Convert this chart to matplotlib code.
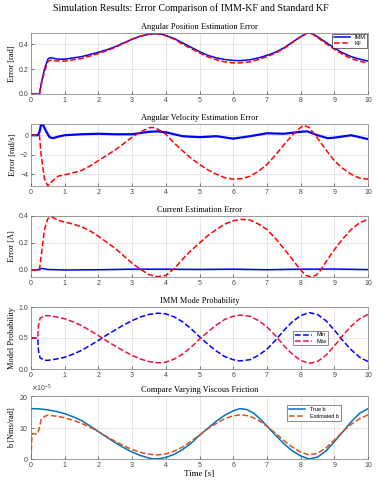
import numpy as np
import matplotlib.pyplot as plt
from matplotlib.ticker import ScalarFormatter

# ---------------- data ----------------
# angular position error [rad]
t_pos = [0, 0.2, 0.25, 0.3, 0.4, 0.5, 0.55, 0.6, 0.8, 1.0, 1.5, 2.0, 2.25, 2.5, 2.75, 3.0, 3.25, 3.5, 3.7, 3.9,
         4.25, 4.5, 4.75, 5.0, 5.25, 5.5, 5.75, 6.0, 6.2, 6.5, 6.75, 7.0, 7.25, 7.5, 7.75, 8.0, 8.2, 8.35, 8.5,
         8.75, 9.0, 9.25, 9.5, 9.75, 10.0]
pos_imm = [0, 0, 0.0, 0.08, 0.2, 0.28, 0.29, 0.29, 0.28, 0.28, 0.3, 0.335, 0.355, 0.38, 0.41, 0.44, 0.465, 0.48,
           0.485, 0.48, 0.445, 0.41, 0.375, 0.34, 0.31, 0.29, 0.277, 0.27, 0.268, 0.275, 0.29, 0.31, 0.335, 0.37,
           0.415, 0.46, 0.49, 0.485, 0.46, 0.415, 0.37, 0.33, 0.3, 0.28, 0.265]
pos_kf = [0, 0, 0.0, 0.07, 0.18, 0.26, 0.27, 0.27, 0.265, 0.265, 0.285, 0.325, 0.348, 0.375, 0.407, 0.44, 0.465,
          0.48, 0.485, 0.478, 0.44, 0.4, 0.365, 0.33, 0.298, 0.275, 0.258, 0.25, 0.25, 0.258, 0.277, 0.3, 0.328,
          0.365, 0.412, 0.46, 0.49, 0.482, 0.455, 0.405, 0.36, 0.318, 0.285, 0.263, 0.25]

# angular velocity error [rad/s]
t_vel_imm = [0, 0.2, 0.25, 0.3, 0.35, 0.45, 0.55, 0.65, 0.8, 1.0, 1.5, 2.0, 2.5, 3.0, 3.5, 3.75, 4.0, 4.5,
             5.0, 5.5, 6.0, 6.5, 7.0, 7.5, 8.0, 8.2, 8.5, 8.8, 9.0, 9.5, 10.0]
vel_imm = [0, 0, 0.3, 1.1, 1.1, 0.4, -0.2, -0.3, -0.15, 0.0, 0.1, 0.15, 0.1, 0.1, 0.35, 0.4, 0.3, -0.1,
           -0.2, -0.1, -0.35, -0.1, 0.2, 0.15, 0.35, 0.4, 0.0, -0.3, -0.25, 0.0, -0.4]
t_vel_kf = [0, 0.25, 0.3, 0.4, 0.5, 0.6, 0.8, 1.0, 1.25, 1.5, 1.75, 2.0, 2.25, 2.5, 2.75, 3.0, 3.25, 3.5, 3.6,
            3.75, 4.0, 4.25, 4.5, 4.75, 5.0, 5.25, 5.5, 5.75, 6.0, 6.25, 6.5, 6.75, 7.0, 7.25, 7.5, 7.75, 8.0,
            8.1, 8.25, 8.5, 8.75, 9.0, 9.25, 9.5, 9.75, 10.0]
vel_kf = [0, 0, -2.0, -4.5, -5.2, -4.8, -4.2, -4.05, -3.85, -3.6, -3.15, -2.6, -2.05, -1.5, -0.85, -0.2, 0.35,
          0.75, 0.8, 0.65, 0.1, -0.8, -1.6, -2.35, -3.0, -3.55, -4.0, -4.35, -4.5, -4.45, -4.2, -3.7, -3.0,
          -2.05, -1.0, 0.0, 0.8, 1.0, 0.8, -0.3, -1.5, -2.6, -3.4, -4.0, -4.4, -4.5]

# current error [A]
t_cur_kf = [0, 0.25, 0.3, 0.4, 0.5, 0.6, 0.8, 1.0, 1.25, 1.5, 1.75, 2.0, 2.25, 2.5, 2.75, 3.0, 3.25, 3.5, 3.75,
            4.0, 4.25, 4.5, 4.75, 5.0, 5.25, 5.5, 5.75, 6.0, 6.25, 6.5, 6.75, 7.0, 7.25, 7.5, 7.75, 8.0, 8.15,
            8.3, 8.45, 8.6, 8.75, 9.0, 9.25, 9.5, 9.75, 10.0]
cur_kf = [0, 0.0, 0.1, 0.3, 0.38, 0.395, 0.37, 0.355, 0.34, 0.32, 0.29, 0.25, 0.205, 0.16, 0.105, 0.05, 0.005,
          -0.035, -0.05, -0.04, 0.01, 0.08, 0.145, 0.2, 0.255, 0.3, 0.34, 0.365, 0.375, 0.37, 0.34, 0.3, 0.235,
          0.16, 0.08, 0.0, -0.04, -0.05, -0.04, 0.0, 0.06, 0.15, 0.23, 0.3, 0.35, 0.375]
t_cur_imm = [0, 0.25, 0.3, 0.5, 1.0, 2.0, 3.0, 4.0, 5.0, 6.0, 7.0, 8.0, 9.0, 10.0]
cur_imm = [0, 0.003, 0.012, 0.004, 0.0, 0.002, 0.006, 0.006, 0.004, 0.006, 0.002, 0.006, 0.007, 0.003]

# IMM mode probability
t_prob = [0, 0.2, 0.22, 0.27, 0.4, 0.5, 0.75, 1.0, 1.25, 1.5, 1.75, 2.0, 2.25, 2.5, 2.75, 3.0, 3.25, 3.5, 3.75,
          4.0, 4.25, 4.5, 4.75, 5.0, 5.25, 5.5, 5.75, 6.0, 6.2, 6.5, 6.75, 7.0, 7.25, 7.5, 7.75, 8.0, 8.25,
          8.5, 8.75, 9.0, 9.25, 9.5, 9.75, 10.0]
prob_min = [0.5, 0.5, 0.3, 0.18, 0.14, 0.14, 0.16, 0.19, 0.24, 0.3, 0.38, 0.46, 0.55, 0.63, 0.71, 0.78, 0.84,
            0.88, 0.9, 0.89, 0.84, 0.76, 0.65, 0.52, 0.4, 0.29, 0.2, 0.15, 0.13, 0.15, 0.22, 0.32, 0.46, 0.62,
            0.76, 0.86, 0.91, 0.88, 0.78, 0.63, 0.46, 0.31, 0.19, 0.12]
prob_max = [0.5, 0.5, 0.7, 0.82, 0.86, 0.86, 0.84, 0.81, 0.76, 0.7, 0.62, 0.54, 0.45, 0.37, 0.29, 0.22, 0.16,
            0.12, 0.1, 0.11, 0.16, 0.24, 0.35, 0.48, 0.6, 0.71, 0.8, 0.85, 0.87, 0.85, 0.78, 0.68, 0.54, 0.38,
            0.24, 0.14, 0.09, 0.12, 0.22, 0.37, 0.54, 0.69, 0.81, 0.88]

# viscous friction [Nms/rad]
t_b = [0, 0.25, 0.5, 0.75, 1.0, 1.25, 1.5, 1.75, 2.0, 2.25, 2.5, 2.75, 3.0, 3.25, 3.5, 3.65, 3.8, 4.0, 4.25,
       4.5, 4.75, 5.0, 5.25, 5.5, 5.75, 6.0, 6.2, 6.4, 6.6, 6.8, 7.0, 7.25, 7.5, 7.75, 8.0, 8.25, 8.5, 8.75,
       9.0, 9.25, 9.5, 9.75, 10.0]
b_true = [16e-5, 15.9e-5, 15.6e-5, 15.1e-5, 14.4e-5, 13.4e-5, 12.2e-5, 10.5e-5, 8.7e-5, 6.9e-5, 5.2e-5, 3.6e-5,
          2.2e-5, 1.1e-5, 0.3e-5, 0.0, 0.1e-5, 0.5e-5, 1.5e-5, 3.0e-5, 5.0e-5, 7.5e-5, 9.8e-5, 12e-5, 13.9e-5,
          15.3e-5, 16e-5, 15.7e-5, 14.6e-5, 12.7e-5, 10.5e-5, 7.6e-5, 4.9e-5, 2.6e-5, 1.0e-5, 0.0, 0.6e-5,
          2.5e-5, 5.5e-5, 8.6e-5, 11.8e-5, 14.5e-5, 16e-5]
t_b_est = [0, 0.03, 0.2, 0.25, 0.3, 0.4, 0.5, 0.75, 1.0, 1.25, 1.5, 1.75, 2.0, 2.25, 2.5, 2.75, 3.0, 3.25, 3.5,
           3.75, 4.0, 4.25, 4.5, 4.75, 5.0, 5.25, 5.5, 5.75, 6.0, 6.2, 6.4, 6.6, 6.8, 7.0, 7.25, 7.5, 7.75, 8.0,
           8.25, 8.5, 8.75, 9.0, 9.25, 9.5, 9.75, 10.0]
b_est = [0, 8e-5, 8e-5, 10e-5, 12.5e-5, 13.5e-5, 13.9e-5, 13.6e-5, 13.1e-5, 12.3e-5, 11.3e-5, 10.1e-5, 8.7e-5,
         7.1e-5, 5.6e-5, 4.2e-5, 3.0e-5, 2.1e-5, 1.5e-5, 1.3e-5, 1.6e-5, 2.5e-5, 3.8e-5, 5.6e-5, 7.6e-5, 9.6e-5,
         11.3e-5, 12.8e-5, 13.7e-5, 14e-5, 13.8e-5, 13.1e-5, 11.9e-5, 10.4e-5, 8.2e-5, 5.9e-5, 3.8e-5, 2.2e-5,
         1.3e-5, 1.8e-5, 3.5e-5, 6.0e-5, 8.7e-5, 11.0e-5, 12.8e-5, 14e-5]

# ---------------- figure ----------------
serif = 'Liberation Serif'
plt.rcParams['font.family'] = 'Liberation Sans'
plt.rcParams['font.size'] = 5

fig = plt.figure(figsize=(3.81, 4.88), dpi=100)
fig.text(0.5, 0.983, 'Simulation Results: Error Comparison of IMM-KF and Standard KF',
         ha='center', va='center', fontsize=7.2, family=serif)

W, H = 381, 488
rects = [(33, 94), (124, 186), (216, 277), (307, 369), (396, 459)]
axes = []
for top, bot in rects:
    ax = fig.add_axes([31 / W, 1 - bot / H, 337 / W, (bot - top) / H])
    ax.set_xlim(0, 10)
    ax.set_xticks(range(11))
    ax.grid(True, color='#dddddd', linewidth=0.5)
    ax.set_axisbelow(True)
    ax.tick_params(direction='in', length=2, width=0.5, labelsize=5, pad=2, colors='#444444')
    for s in ax.spines.values():
        s.set_color('#777777')
        s.set_linewidth(0.5)
    axes.append(ax)

lw = 1.1

# 1 position
ax = axes[0]
ax.plot(t_pos, pos_imm, color='b', lw=lw, label='IMM')
ax.plot(t_pos, pos_kf, 'r--', lw=lw, label='KF')
ax.set_ylim(0, 0.49)
ax.set_yticks([0, 0.2, 0.4])
ax.set_title('Angular Position Estimation Error', fontsize=6, family=serif, pad=3)
ax.set_ylabel('Error [rad]', fontsize=6, family=serif, labelpad=2)
leg = ax.legend(loc='upper right', fontsize=4, frameon=True, fancybox=False, borderpad=0.3,
                handlelength=3, labelspacing=0.2, borderaxespad=0.1)
leg.get_frame().set_edgecolor('k')
leg.get_frame().set_linewidth(0.5)

# 2 velocity
ax = axes[1]
ax.plot(t_vel_imm, vel_imm, color='b', lw=1.6)
ax.plot(t_vel_kf, vel_kf, 'r--', lw=lw)
ax.set_ylim(-5.2, 1.15)
ax.set_yticks([-4, -2, 0])
ax.set_title('Angular Velocity Estimation Error', fontsize=6, family=serif, pad=3)
ax.set_ylabel('Error [rad/s]', fontsize=6, family=serif, labelpad=2)

# 3 current
ax = axes[2]
ax.plot(t_cur_imm, cur_imm, color='b', lw=lw)
ax.plot(t_cur_kf, cur_kf, 'r--', lw=lw)
ax.set_ylim(-0.052, 0.4)
ax.set_yticks([0, 0.2, 0.4])
ax.set_title('Current Estimation Error', fontsize=6, family=serif, pad=3)
ax.set_ylabel('Error [A]', fontsize=6, family=serif, labelpad=2)

# 4 probability
ax = axes[3]
ax.plot(t_prob, prob_min, color='b', ls='--', lw=lw, label='Min')
ax.plot(t_prob, prob_max, color='#f0103c', ls='--', lw=lw, label='Max')
ax.set_ylim(0, 1)
ax.set_yticks([0, 0.5, 1])
ax.set_title('IMM Mode Probability', fontsize=6, family=serif, pad=3)
ax.set_ylabel('Model Probability', fontsize=6, family=serif, labelpad=2)
leg = ax.legend(loc='center left', bbox_to_anchor=(0.77, 0.5), fontsize=4, frameon=True, fancybox=False,
                borderpad=0.3, handlelength=3, labelspacing=0.2)
leg.get_frame().set_edgecolor('#333333')
leg.get_frame().set_linewidth(0.5)

# 5 friction
ax = axes[4]
ax.plot(t_b, b_true, color='#0072BD', lw=lw, label='True b')
ax.plot(t_b_est, b_est, color='#D95319', ls='--', lw=lw, label='Estimated b')
ax.set_ylim(0, 20e-5)
ax.set_yticks([0, 10e-5, 20e-5])
fmt = ScalarFormatter(useMathText=True)
fmt.set_powerlimits((-5, -5))
ax.yaxis.set_major_formatter(fmt)
ax.yaxis.get_offset_text().set_fontsize(5)
ax.set_title('Compare Varying Viscous Friction', fontsize=6, family=serif, pad=3)
ax.set_ylabel('b [Nms/rad]', fontsize=6, family=serif, labelpad=2)
ax.set_xlabel('Time [s]', fontsize=6.5, family=serif, labelpad=1)
leg = ax.legend(loc='upper left', bbox_to_anchor=(0.75, 0.9), fontsize=4, frameon=True, fancybox=False,
                borderpad=0.4, handlelength=3, labelspacing=0.3)
leg.get_frame().set_edgecolor('#333333')
leg.get_frame().set_linewidth(0.5)

fig.savefig('out.png', dpi=100)
